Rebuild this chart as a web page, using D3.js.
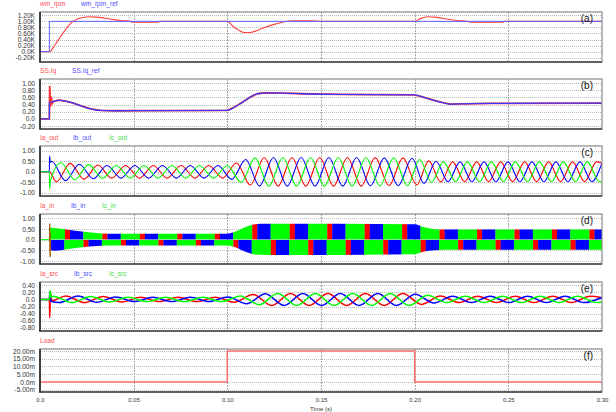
<!DOCTYPE html>
<html>
<head>
<meta charset="utf-8">
<script src="https://cdn.jsdelivr.net/npm/d3@7"></script>
<style>
  body { margin: 0; background: #fff; }
  svg { display: block; font-family: "Liberation Sans", Arial, sans-serif; }
</style>
</head>
<body>
<script>
// ---- data ----
const timeTicks = [0, 0.05, 0.10, 0.15, 0.20, 0.25, 0.30];
const timeTickLabels = ["0.0", "0.05", "0.10", "0.15", "0.20", "0.25", "0.30"];

// (a) speed, in K rpm
const aTicks = [1.2, 1.0, 0.8, 0.6, 0.4, 0.2, 0, -0.2];
const aTickLabels = ["1.20K", "1.00K", "0.80K", "0.60K", "0.40K", "0.20K", "0.0K", "-0.20K"];
const wmRpmRef = [[0, 0], [0.005, 0], [0.005, 1.0], [0.3, 1.0]];
const wmRpm = [[0, 0], [0.005, 0], [0.008, 0.22], [0.011, 0.5], [0.014, 0.76], [0.017, 0.97], [0.02, 1.08],
  [0.023, 1.13], [0.026, 1.15], [0.03, 1.14], [0.035, 1.1], [0.04, 1.05], [0.044, 1.02], [0.048, 1.01],
  [0.049, 0.97], [0.063, 0.97], [0.064, 1.0], [0.1, 1.0], [0.103, 0.84], [0.106, 0.71], [0.109, 0.63],
  [0.112, 0.63], [0.116, 0.7], [0.12, 0.8], [0.125, 0.9], [0.13, 0.98], [0.135, 1.02], [0.145, 1.02],
  [0.15, 1.0], [0.2, 1.0], [0.203, 1.09], [0.207, 1.15], [0.212, 1.13], [0.218, 1.07], [0.223, 1.03],
  [0.228, 1.0], [0.2305, 0.97], [0.247, 0.97], [0.248, 1.0], [0.3, 1.0]];

// (b) q-axis current
const bTicks = [1.0, 0.8, 0.6, 0.4, 0.2, 0, -0.2];
const bTickLabels = ["1.00", "0.80", "0.60", "0.40", "0.20", "0.0", "-0.20"];
const iqRef = [[0, 0], [0.005, 0], [0.005, 0.45], [0.007, 0.48], [0.01, 0.52], [0.013, 0.5], [0.017, 0.45],
  [0.022, 0.36], [0.027, 0.28], [0.032, 0.235], [0.04, 0.225], [0.06, 0.23], [0.1, 0.235], [0.104, 0.33],
  [0.108, 0.46], [0.112, 0.6], [0.116, 0.7], [0.12, 0.725], [0.13, 0.72], [0.14, 0.7], [0.16, 0.68],
  [0.2, 0.67], [0.205, 0.6], [0.21, 0.52], [0.215, 0.45], [0.219, 0.41], [0.225, 0.42], [0.24, 0.43], [0.3, 0.44]];
const iq = [[0, 0], [0.005, 0], [0.0052, 0.9], [0.0056, 0.35], [0.006, 0.6], [0.0065, 0.42], [0.007, 0.48],
  [0.01, 0.52], [0.013, 0.5], [0.017, 0.45], [0.022, 0.36], [0.027, 0.28], [0.032, 0.235], [0.04, 0.225],
  [0.06, 0.23], [0.1, 0.235], [0.104, 0.33], [0.108, 0.46], [0.112, 0.6], [0.116, 0.7], [0.12, 0.725],
  [0.13, 0.72], [0.14, 0.7], [0.16, 0.68], [0.2, 0.67], [0.205, 0.6], [0.21, 0.52], [0.215, 0.45],
  [0.219, 0.41], [0.225, 0.42], [0.24, 0.43], [0.3, 0.44]];

// (c) output currents, extremes of each phase
const cTicks = [1.0, 0.5, 0, -0.5, -1.0];
const cTickLabels = ["1.00", "0.50", "0.0", "-0.50", "-1.00"];
const iaOut = [[0, 0], [0.005, 0], [0.0087, -0.48], [0.0161, 0.4], [0.0235, -0.35], [0.0309, 0.32], [0.0383, -0.3],
  [0.0457, 0.3], [0.0531, -0.3], [0.0605, 0.3], [0.0679, -0.3], [0.0753, 0.3], [0.0827, -0.3], [0.0901, 0.3],
  [0.0975, -0.3], [0.1049, 0.42], [0.1123, -0.63], [0.1197, 0.68], [0.1271, -0.68], [0.1345, 0.68],
  [0.1419, -0.68], [0.1493, 0.68], [0.1567, -0.68], [0.1641, 0.68], [0.1715, -0.68], [0.1789, 0.67],
  [0.1863, -0.66], [0.1937, 0.66], [0.2011, -0.62], [0.2075, 0.52], [0.2139, -0.48], [0.2203, 0.47],
  [0.2267, -0.47], [0.2331, 0.47], [0.2395, -0.47], [0.2459, 0.47], [0.2523, -0.47], [0.2587, 0.47],
  [0.2651, -0.47], [0.2715, 0.47], [0.2779, -0.47], [0.2843, 0.47], [0.2907, -0.47], [0.2971, 0.47], [0.3, 0.4]];
const ibOut = [[0, 0], [0.005, 0], [0.0051, 0.75], [0.0055, 0.45], [0.0062, 0.5], [0.0136, -0.42], [0.021, 0.36],
  [0.0284, -0.33], [0.0358, 0.3], [0.0432, -0.3], [0.0506, 0.3], [0.058, -0.3], [0.0654, 0.3], [0.0728, -0.3],
  [0.0802, 0.3], [0.0876, -0.3], [0.095, 0.3], [0.1024, -0.36], [0.1098, 0.58], [0.1172, -0.68], [0.1246, 0.68],
  [0.132, -0.68], [0.1394, 0.68], [0.1468, -0.68], [0.1542, 0.68], [0.1616, -0.68], [0.169, 0.68],
  [0.1764, -0.67], [0.1838, 0.66], [0.1912, -0.66], [0.1986, 0.64], [0.205, -0.55], [0.2114, 0.5],
  [0.2178, -0.47], [0.2242, 0.47], [0.2306, -0.47], [0.237, 0.47], [0.2434, -0.47], [0.2498, 0.47],
  [0.2562, -0.47], [0.2626, 0.47], [0.269, -0.47], [0.2754, 0.47], [0.2818, -0.47], [0.2882, 0.47],
  [0.2946, -0.47], [0.3, 0.42]];
const icOut = [[0, 0], [0.005, 0], [0.0051, -0.8], [0.0055, -0.45], [0.0112, 0.43], [0.0186, -0.38], [0.026, 0.34],
  [0.0334, -0.31], [0.0408, 0.3], [0.0482, -0.3], [0.0556, 0.3], [0.063, -0.3], [0.0704, 0.3], [0.0778, -0.3],
  [0.0852, 0.3], [0.0926, -0.3], [0.1, 0.3], [0.1074, -0.5], [0.1148, 0.66], [0.1222, -0.68], [0.1296, 0.68],
  [0.137, -0.68], [0.1444, 0.68], [0.1518, -0.68], [0.1592, 0.68], [0.1666, -0.68], [0.174, 0.68],
  [0.1814, -0.67], [0.1888, 0.66], [0.1962, -0.66], [0.2026, 0.58], [0.209, -0.5], [0.2154, 0.47],
  [0.2218, -0.47], [0.2282, 0.47], [0.2346, -0.47], [0.241, 0.47], [0.2474, -0.47], [0.2538, 0.47],
  [0.2602, -0.47], [0.2666, 0.47], [0.273, -0.47], [0.2794, 0.47], [0.2858, -0.47], [0.2922, 0.47],
  [0.2986, -0.47], [0.3, -0.46]];

// (d) input currents: envelope + sector blocks (period of the 50 Hz supply)
const dEnvTop = [[0.005, 0.56], [0.008, 0.55], [0.012, 0.5], [0.02, 0.4], [0.03, 0.31], [0.036, 0.28],
  [0.1, 0.28], [0.105, 0.4], [0.11, 0.6], [0.115, 0.72], [0.12, 0.74], [0.2, 0.72], [0.205, 0.58],
  [0.21, 0.5], [0.215, 0.47], [0.3, 0.47]];
const dEnvBot = [[0.005, 0.5], [0.008, 0.52], [0.012, 0.48], [0.02, 0.38], [0.03, 0.3], [0.036, 0.27],
  [0.1, 0.27], [0.105, 0.38], [0.11, 0.58], [0.115, 0.7], [0.12, 0.72], [0.2, 0.68], [0.205, 0.56],
  [0.21, 0.5], [0.215, 0.47], [0.3, 0.47]];
const sectorPeriod = 0.02;
const sectorFirstRed = 0.0133;
const sectorBottomShift = 0.0099;
const sectorColors = ["red", "blue", "green"];
const sectorLengths = [0.0027, 0.0071, 0.0102];

// (e) source currents, extremes of each phase
const eTicks = [0.4, 0.2, 0, -0.2, -0.4, -0.6, -0.8];
const eTickLabels = ["0.40", "0.20", "0.0", "-0.20", "-0.40", "-0.60", "-0.80"];
const iaSrc = [[0, 0], [0.005, 0], [0.0052, -0.52], [0.0056, 0.18], [0.0062, -0.04], [0.0137, 0.1], [0.0237, -0.09],
  [0.0337, 0.08], [0.0437, -0.07], [0.0537, 0.06], [0.0637, -0.06], [0.0737, 0.06], [0.0837, -0.06],
  [0.0937, 0.06], [0.1037, -0.08], [0.1137, 0.14], [0.1237, -0.17], [0.1337, 0.17], [0.1437, -0.17],
  [0.1537, 0.17], [0.1637, -0.17], [0.1737, 0.17], [0.1837, -0.17], [0.1937, 0.17], [0.2037, -0.14],
  [0.2137, 0.1], [0.2237, -0.09], [0.2337, 0.09], [0.2437, -0.09], [0.2537, 0.09], [0.2637, -0.09],
  [0.2737, 0.09], [0.2837, -0.09], [0.2937, 0.09], [0.3, 0.05]];
const ibSrc = [[0, 0], [0.005, 0], [0.0052, 0.2], [0.0058, -0.05], [0.0103, -0.09], [0.0203, 0.1], [0.0303, -0.08],
  [0.0403, 0.07], [0.0503, -0.06], [0.0603, 0.06], [0.0703, -0.06], [0.0803, 0.06], [0.0903, -0.06],
  [0.1003, 0.07], [0.1103, -0.12], [0.1203, 0.16], [0.1303, -0.17], [0.1403, 0.17], [0.1503, -0.17],
  [0.1603, 0.17], [0.1703, -0.17], [0.1803, 0.17], [0.1903, -0.17], [0.2003, 0.15], [0.2103, -0.1],
  [0.2203, 0.09], [0.2303, -0.09], [0.2403, 0.09], [0.2503, -0.09], [0.2603, 0.09], [0.2703, -0.09],
  [0.2803, 0.09], [0.2903, -0.09], [0.3, 0.06]];
const icSrc = [[0, 0], [0.005, 0], [0.0054, 0.25], [0.006, 0.06], [0.007, 0.09], [0.017, -0.09], [0.027, 0.08],
  [0.037, -0.07], [0.047, 0.06], [0.057, -0.06], [0.067, 0.06], [0.077, -0.06], [0.087, 0.06], [0.097, -0.06],
  [0.107, 0.1], [0.117, -0.15], [0.127, 0.17], [0.137, -0.17], [0.147, 0.17], [0.157, -0.17], [0.167, 0.17],
  [0.177, -0.17], [0.187, 0.17], [0.197, -0.17], [0.207, 0.12], [0.217, -0.09], [0.227, 0.09], [0.237, -0.09],
  [0.247, 0.09], [0.257, -0.09], [0.267, 0.09], [0.277, -0.09], [0.287, 0.09], [0.297, -0.09], [0.3, -0.07]];

// (f) load torque, in m
const fTicks = [20, 15, 10, 5, 0, -5];
const fTickLabels = ["20.00m", "15.00m", "10.00m", "5.00m", "0.0m", "-5.00m"];
const load = [[0, 0], [0.1, 0], [0.1, 20], [0.2, 20], [0.2, 0], [0.3, 0]];

// ---- layout ----
const W = 616, H = 412;
const X0 = 40, X1 = 602;
const RED = "#ff0000", BLUE = "#0000ff", GREEN = "#00ff00";

const panels = [
  { tag: "(a)", top: 12, bottom: 62, dom: [-0.342, 1.309], ticks: aTicks, labels: aTickLabels,
    legend: [["wm_rpm", "#ff5050", 40], ["wm_rpm_ref", "#5050ff", 81]] },
  { tag: "(b)", top: 79, bottom: 129, dom: [-0.284, 1.112], ticks: bTicks, labels: bTickLabels,
    legend: [["SS.Iq", "#ff5050", 40], ["SS.Iq_ref", "#5050ff", 72]] },
  { tag: "(c)", top: 146, bottom: 196, dom: [-1.15, 1.224], ticks: cTicks, labels: cTickLabels,
    legend: [["Ia_out", "#ff5050", 40], ["Ib_out", "#5050ff", 73], ["Ic_out", "#40e040", 109]] },
  { tag: "(d)", top: 214, bottom: 264, dom: [-1.14, 1.2], ticks: cTicks, labels: cTickLabels,
    legend: [["Ia_in", "#ff5050", 40], ["Ib_in", "#5050ff", 71], ["Ic_in", "#40e040", 102]] },
  { tag: "(e)", top: 282, bottom: 331, dom: [-0.893, 0.493], ticks: eTicks, labels: eTickLabels,
    legend: [["Ia_src", "#ff5050", 40], ["Ib_src", "#5050ff", 74], ["Ic_src", "#40e040", 109]] },
  { tag: "(f)", top: 349, bottom: 392, dom: [-6.5, 21.3], ticks: fTicks, labels: fTickLabels,
    legend: [["Load", "#ff5050", 40]] }
];

const svg = d3.select("body").append("svg").attr("width", W).attr("height", H);
svg.append("rect").attr("width", W).attr("height", H).attr("fill", "#fff");

const x = d3.scaleLinear().domain([0, 0.3]).range([X0, X1]);

panels.forEach((p, i) => {
  p.y = d3.scaleLinear().domain(p.dom).range([p.bottom, p.top]);
  const g = svg.append("g");
  p.g = g;

  // grid
  g.selectAll(".hg").data(p.ticks).join("line")
    .attr("x1", X0).attr("x2", X1)
    .attr("y1", d => Math.round(p.y(d)) + 0.5).attr("y2", d => Math.round(p.y(d)) + 0.5)
    .attr("stroke", "#b8b8b8").attr("stroke-width", 1).attr("stroke-dasharray", "1,1");
  g.selectAll(".vg").data(timeTicks.slice(1, -1)).join("line")
    .attr("x1", d => Math.round(x(d)) + 0.5).attr("x2", d => Math.round(x(d)) + 0.5)
    .attr("y1", p.top).attr("y2", p.bottom)
    .attr("stroke", "#a8a8a8").attr("stroke-width", 1).attr("stroke-dasharray", "2,1");

  // y axis labels
  const ax = d3.axisLeft(p.y).tickValues(p.ticks).tickSize(0).tickPadding(0)
    .tickFormat((d, k) => p.labels[k]);
  const axg = svg.append("g").attr("transform", `translate(${X0 - 5},0)`).call(ax);
  axg.select(".domain").remove();
  axg.selectAll("text").attr("font-size", 6.6).attr("fill", "#333").attr("font-family", "Liberation Sans, Arial");

  // legend
  p.legend.forEach(([t, c, lx]) => {
    svg.append("text").attr("x", lx).attr("y", p.top - 6.5).attr("font-size", 6.6)
      .attr("fill", c).text(t);
  });

  // clip
  svg.append("clipPath").attr("id", "clip" + i).append("rect")
    .attr("x", X0).attr("y", p.top).attr("width", X1 - X0).attr("height", p.bottom - p.top);
  p.plot = svg.append("g").attr("clip-path", `url(#clip${i})`);
});

function drawLine(p, data, color, width, curve) {
  const line = d3.line().x(d => x(d[0])).y(d => p.y(d[1])).curve(curve || d3.curveLinear);
  p.plot.append("path").datum(data).attr("d", line)
    .attr("fill", "none").attr("stroke", color).attr("stroke-width", width)
    .attr("stroke-linejoin", "round");
}

// (a)
drawLine(panels[0], wmRpm, "#ff4040", 1.1, d3.curveMonotoneX);
drawLine(panels[0], wmRpmRef, "#6060ff", 1);

// (b)
drawLine(panels[1], iq, "#ff3030", 1.8);
drawLine(panels[1], iqRef, "#3a3aff", 1.3, d3.curveMonotoneX);

// (c)
drawLine(panels[2], iaOut, RED, 1.1, d3.curveMonotoneX);
drawLine(panels[2], ibOut, BLUE, 1.1, d3.curveMonotoneX);
drawLine(panels[2], icOut, GREEN, 1.1, d3.curveMonotoneX);

// (d) sector blocks inside the envelope
(function () {
  const p = panels[3];
  const y0 = p.y(0);
  const topArea = d3.area().x(d => x(d[0])).y0(y0).y1(d => p.y(d[1])).curve(d3.curveMonotoneX);
  const botArea = d3.area().x(d => x(d[0])).y0(y0).y1(d => p.y(-d[1])).curve(d3.curveMonotoneX);
  svg.append("clipPath").attr("id", "dtop").append("path").attr("d", topArea(dEnvTop));
  svg.append("clipPath").attr("id", "dbot").append("path").attr("d", botArea(dEnvBot));

  const blocks = [];
  const tStart = dEnvTop[0][0];
  [["top", 0], ["bot", sectorBottomShift]].forEach(([half, shift]) => {
    for (let k = -2; k < 16; k++) {
      let t = sectorFirstRed + shift + k * sectorPeriod;
      sectorColors.forEach((c, j) => {
        const a = Math.max(t, tStart), b = Math.min(t + sectorLengths[j], 0.3);
        if (b > a) blocks.push({ half, c, a, b });
        t += sectorLengths[j];
      });
    }
  });
  const col = { red: RED, blue: BLUE, green: GREEN };
  const gt = p.plot.append("g").attr("clip-path", "url(#dtop)");
  const gb = p.plot.append("g").attr("clip-path", "url(#dbot)");
  blocks.forEach(bk => {
    (bk.half === "top" ? gt : gb).append("rect")
      .attr("x", x(bk.a)).attr("width", x(bk.b) - x(bk.a) + 0.2)
      .attr("y", bk.half === "top" ? p.top : y0)
      .attr("height", bk.half === "top" ? y0 - p.top : p.bottom - y0)
      .attr("fill", col[bk.c]);
  });
  drawLine(p, [[0, 0], [tStart, 0]], GREEN, 1);
  drawLine(p, [[tStart, 0], [tStart + 0.0002, 0.75], [tStart + 0.0004, -0.8], [tStart + 0.0006, 0.3]], "#a06000", 1);
})();

// (e)
drawLine(panels[4], iaSrc, RED, 1.5, d3.curveMonotoneX);
drawLine(panels[4], ibSrc, BLUE, 1.5, d3.curveMonotoneX);
drawLine(panels[4], icSrc, GREEN, 1.5, d3.curveMonotoneX);

// (f)
drawLine(panels[5], load, "#ff7070", 1.6);

// frames and tags
panels.forEach(p => {
  svg.append("rect").attr("x", X0).attr("y", p.top).attr("width", X1 - X0).attr("height", p.bottom - p.top)
    .attr("fill", "none").attr("stroke", "#8a8a8a").attr("stroke-width", 1.2);
  svg.append("line").attr("x1", X0).attr("x2", X0).attr("y1", p.top).attr("y2", p.bottom + 0.8)
    .attr("stroke", "#222").attr("stroke-width", 1.6);
  svg.append("line").attr("x1", X0).attr("x2", X1).attr("y1", p.bottom).attr("y2", p.bottom)
    .attr("stroke", "#444").attr("stroke-width", 1.6);
  svg.append("text").attr("x", 593).attr("y", p.top + 10).attr("text-anchor", "end")
    .attr("font-size", 10).attr("fill", "#111").text(p.tag);
});

// time axis
const xa = d3.axisBottom(x).tickValues(timeTicks).tickSize(0).tickPadding(0)
  .tickFormat((d, k) => timeTickLabels[k]);
const xg = svg.append("g").attr("transform", `translate(0,398)`).call(xa);
xg.select(".domain").remove();
xg.selectAll("text").attr("font-size", 6).attr("fill", "#333").attr("font-family", "Liberation Sans, Arial");
svg.append("text").attr("x", (X0 + X1) / 2).attr("y", 410.5).attr("text-anchor", "middle")
  .attr("font-size", 6).attr("fill", "#333").text("Time (s)");
</script>
</body>
</html>
